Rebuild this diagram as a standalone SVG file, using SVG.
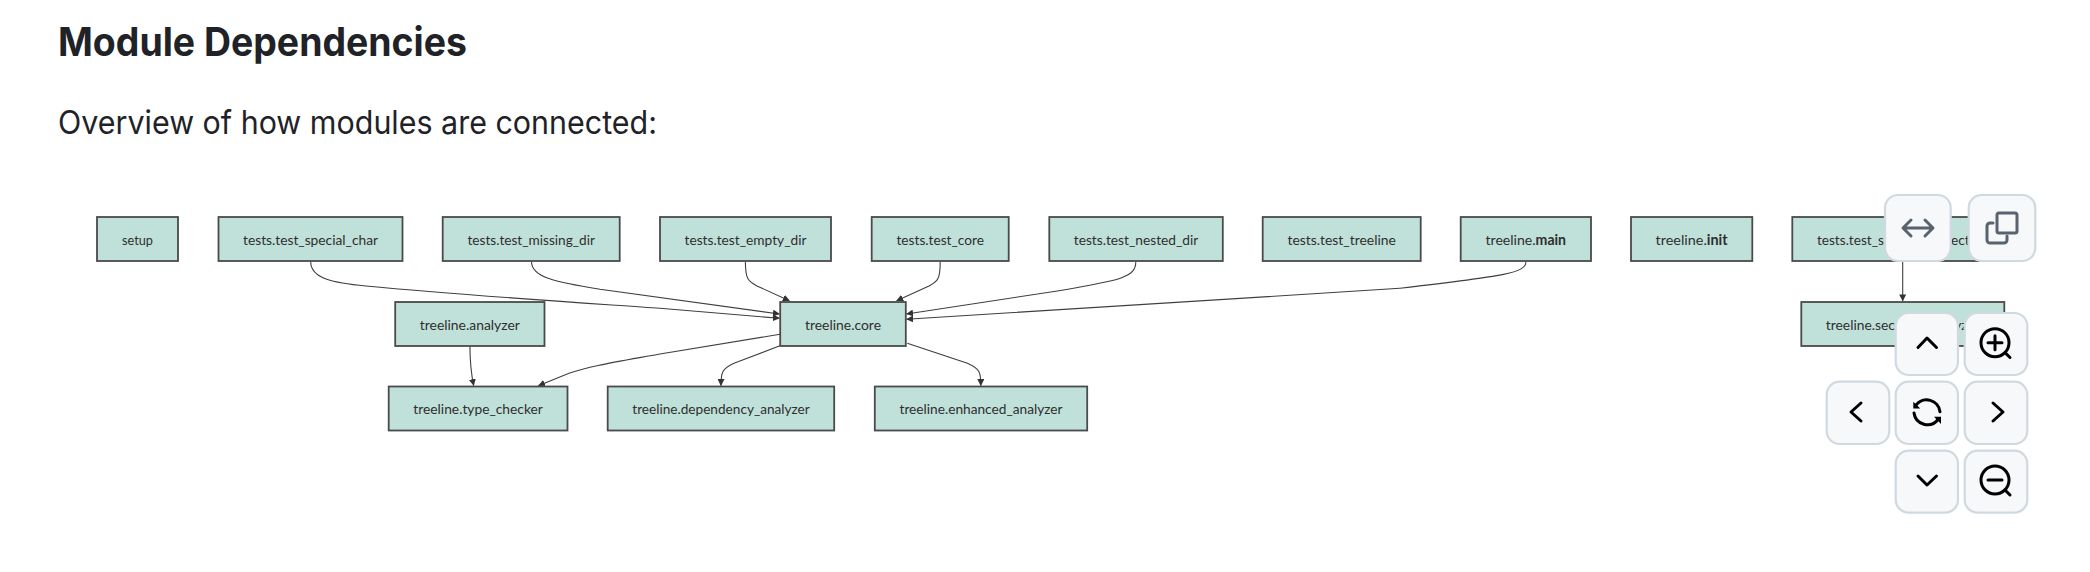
<svg xmlns="http://www.w3.org/2000/svg" width="2090" height="572" viewBox="0 0 2090 572">
<style>
.h{font-family:"Inter","Liberation Sans",sans-serif;fill:#1f2328}
.n rect{fill:#c0e1d9;stroke:#4a4a4a;stroke-width:1.8}
.n text{font-family:"Lato","Noto Sans",sans-serif;font-size:14.2px;fill:#2e2e2e;text-anchor:middle}
.n tspan{font-weight:700}
#connectors path{fill:none;stroke:#3f3f3f;stroke-width:1.1}
.b rect{fill:#f6f8fa;stroke:#d1d9e0;stroke-width:2.2}
.b path,.b circle{fill:none;stroke:#000;stroke-width:3;stroke-linecap:round;stroke-linejoin:round}
.b path.t{fill:#000;stroke:none}
.g path,.g rect.i{stroke:#59636e;fill:none;stroke-width:3;stroke-linecap:round;stroke-linejoin:round}
</style>
<defs>
<marker id="a" viewBox="0 0 7 7" refX="6.6" refY="3.5" markerWidth="7" markerHeight="7" markerUnits="userSpaceOnUse" orient="auto"><path d="M0,0L7,3.5L0,7z" fill="#333"/></marker>
</defs>
<rect width="2090" height="572" fill="#fff"/>
<text class="h" x="58" y="55.5" font-size="39.5" font-weight="700" textLength="409" lengthAdjust="spacingAndGlyphs">Module Dependencies</text>
<text class="h" x="58" y="134" font-size="32.5" textLength="599" lengthAdjust="spacingAndGlyphs">Overview of how modules are connected:</text>
<g id="connectors">
<path marker-end="url(#a)" d="M310.7,261.7C310.7,279 335,283 366,286C470,296 600,304 660,308.3L779.5,318.3"/>
<path marker-end="url(#a)" d="M531.5,261.7C531.5,277 555,282 600,289.3L779.5,314"/>
<path marker-end="url(#a)" d="M745.4,261.7C745.4,279 748,281 757,286L789.4,300.7"/>
<path marker-end="url(#a)" d="M940.2,261.7C940.2,279 938,281 929,286L896.6,300.7"/>
<path marker-end="url(#a)" d="M1135.8,261.7C1135.8,277 1122,280 1059,290.7L906.5,314"/>
<path marker-end="url(#a)" d="M1526,261.7C1526,273 1505,276 1400,288.3C1300,296 1200,301.7 906.5,319.3"/>
<path marker-end="url(#a)" d="M780,334.3L660,354C610,363 590,366 569,373.3L538.4,385.7"/>
<path marker-end="url(#a)" d="M469.9,345.7C470,362 471,373 473.7,385.7"/>
<path marker-end="url(#a)" d="M779.9,345.7L734,363.3C722,369 721,372 721,385.7"/>
<path marker-end="url(#a)" d="M907.3,343.3L967.4,363.3C980,369 980.8,372 980.8,385.7"/>
<path marker-end="url(#a)" d="M1902.7,261L1902.7,301"/>
</g>
<g id="setup" class="n"><rect x="97" y="217" width="81" height="44"/><text x="137.5" y="244.6" textLength="31" lengthAdjust="spacingAndGlyphs">setup</text></g>
<g id="test_special_char" class="n"><rect x="218.5" y="217" width="184" height="44"/><text x="310.5" y="244.6" textLength="135" lengthAdjust="spacingAndGlyphs">tests.test_special_char</text></g>
<g id="test_missing_dir" class="n"><rect x="442.7" y="217" width="177" height="44"/><text x="531.2" y="244.6" textLength="127.5" lengthAdjust="spacingAndGlyphs">tests.test_missing_dir</text></g>
<g id="test_empty_dir" class="n"><rect x="660" y="217" width="171" height="44"/><text x="745.5" y="244.6" textLength="122" lengthAdjust="spacingAndGlyphs">tests.test_empty_dir</text></g>
<g id="test_core" class="n"><rect x="871.7" y="217" width="137" height="44"/><text x="940.2" y="244.6" textLength="87.5" lengthAdjust="spacingAndGlyphs">tests.test_core</text></g>
<g id="test_nested_dir" class="n"><rect x="1049.3" y="217" width="173.5" height="44"/><text x="1136" y="244.6" textLength="124.5" lengthAdjust="spacingAndGlyphs">tests.test_nested_dir</text></g>
<g id="test_treeline" class="n"><rect x="1262.7" y="217" width="158" height="44"/><text x="1341.7" y="244.6" textLength="108.5" lengthAdjust="spacingAndGlyphs">tests.test_treeline</text></g>
<g id="main" class="n"><rect x="1460.7" y="217" width="130.3" height="44"/><text x="1525.8" y="244.6" textLength="80.5" lengthAdjust="spacingAndGlyphs">treeline.<tspan>main</tspan></text></g>
<g id="init" class="n"><rect x="1631" y="217" width="121.3" height="44"/><text x="1691.6" y="244.6" textLength="72" lengthAdjust="spacingAndGlyphs">treeline.<tspan>init</tspan></text></g>
<g id="test_security_detection" class="n"><rect x="1792.3" y="217" width="220.7" height="44"/><text x="1902.7" y="244.6" textLength="171.5" lengthAdjust="spacingAndGlyphs">tests.test_security_detection</text></g>
<g id="analyzer" class="n"><rect x="395.2" y="302" width="149.3" height="44"/><text x="469.8" y="329.6" textLength="100" lengthAdjust="spacingAndGlyphs">treeline.analyzer</text></g>
<g id="core" class="n"><rect x="780.2" y="302" width="125.6" height="44"/><text x="843" y="329.6" textLength="76" lengthAdjust="spacingAndGlyphs">treeline.core</text></g>
<g id="security_analyzer" class="n"><rect x="1801.3" y="302" width="203" height="44"/><text x="1902.8" y="329.6" textLength="154" lengthAdjust="spacingAndGlyphs">treeline.security_analyzer</text></g>
<g id="type_checker" class="n"><rect x="388.7" y="386.5" width="178.8" height="44"/><text x="478.1" y="414" textLength="129.5" lengthAdjust="spacingAndGlyphs">treeline.type_checker</text></g>
<g id="dependency_analyzer" class="n"><rect x="607.7" y="386.5" width="226.5" height="44"/><text x="721" y="414" textLength="177.5" lengthAdjust="spacingAndGlyphs">treeline.dependency_analyzer</text></g>
<g id="enhanced_analyzer" class="n"><rect x="874.8" y="386.5" width="212.4" height="44"/><text x="981" y="414" textLength="163" lengthAdjust="spacingAndGlyphs">treeline.enhanced_analyzer</text></g>
<g id="btn-expand" class="b g"><rect x="1885" y="195" width="65.7" height="66" rx="13"/><path d="M1904,228H1932M1911,220L1903,228L1911,236M1925,220L1933,228L1925,236"/></g>
<g id="btn-copy" class="b g"><rect x="1968.7" y="195" width="66.6" height="66" rx="13"/><rect class="i" x="1997" y="213" width="20" height="20" rx="2"/><path d="M1993,223H1990a3,3 0 0 0 -3,3V240a3,3 0 0 0 3,3H2004a3,3 0 0 0 3,-3V236"/></g>
<g id="btn-up" class="b"><rect x="1895.7" y="313" width="62.3" height="62" rx="13"/><path d="M1918,347.5L1927,338L1936.5,347.5"/></g>
<g id="btn-zoom-in" class="b"><rect x="1964.7" y="313" width="62.6" height="62" rx="13"/><circle cx="1995" cy="342.7" r="14"/><path d="M2005,352.7L2010,357.5M1988,342.7H2002M1995,335.7V349.7"/></g>
<g id="btn-left" class="b"><rect x="1826.7" y="381.7" width="62.6" height="62.3" rx="13"/><path d="M1861,403L1851,412L1861,421"/></g>
<g id="btn-reset" class="b"><rect x="1895.7" y="381.7" width="62.3" height="62.3" rx="13"/><path d="M1940,411.7A13.5,13.5 0 0 0 1916,405M1914,413A13.5,13.5 0 0 0 1938,419.5"/><path class="t" d="M1913.3,401.7V408.6H1920.3zM1941,416.7V424L1934,416.7z"/></g>
<g id="btn-right" class="b"><rect x="1964.7" y="381.7" width="62.6" height="62.3" rx="13"/><path d="M1993,403L2003,412L1993,421"/></g>
<g id="btn-down" class="b"><rect x="1895.7" y="450.7" width="62.3" height="62" rx="13"/><path d="M1918,476L1927,485L1936.5,476"/></g>
<g id="btn-zoom-out" class="b"><rect x="1964.7" y="450.7" width="62.6" height="62" rx="13"/><circle cx="1995" cy="480" r="14"/><path d="M2005,490L2010,495M1988,480H2002"/></g>
</svg>
